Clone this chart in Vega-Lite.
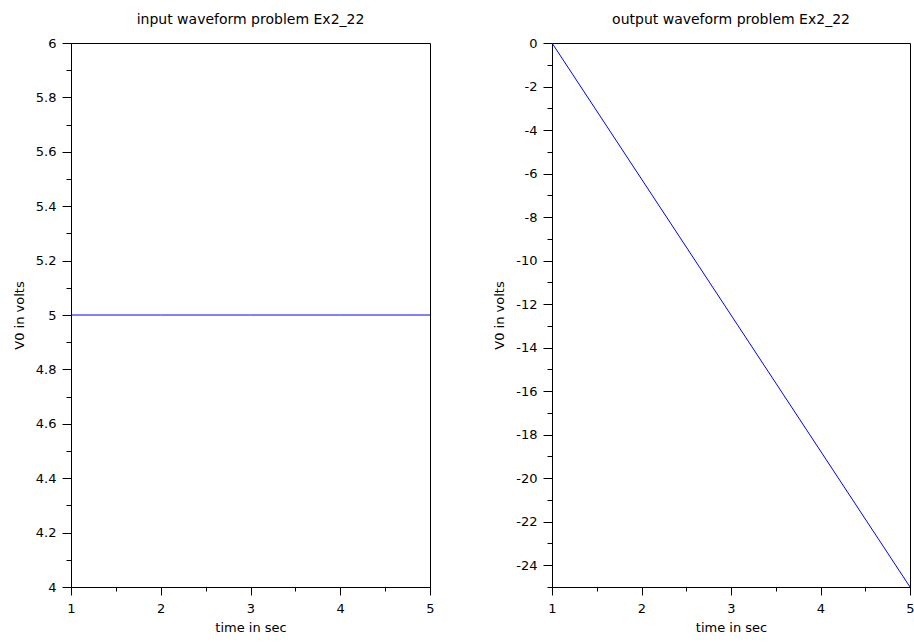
{
  "$schema": "https://vega.github.io/schema/vega-lite/v6.json",
  "background": "white",
  "padding": {"left": 12, "top": 12, "right": 5, "bottom": 5},
  "config": {
    "font": "DejaVu Sans",
    "view": {"stroke": "black", "strokeWidth": 1},
    "axis": {
      "domainColor": "black", "tickColor": "black", "labelColor": "black", "titleColor": "black",
      "grid": false, "labelFontSize": 13, "titleFontSize": 13, "titleFontWeight": "normal",
      "labelFont": "DejaVu Sans", "titleFont": "DejaVu Sans", "labelFlush": false, "labelOverlap": false
    },
    "title": {"fontSize": 14, "fontWeight": "normal", "font": "DejaVu Sans", "color": "black", "frame": "group", "baseline": "alphabetic", "offset": 10}
  },
  "hconcat": [
    {
      "title": "input waveform problem Ex2_22",
      "width": 359, "height": 544,
      "data": {"values": [
        {"t": 1, "v": 5}, {"t": 2, "v": 5}, {"t": 3, "v": 5}, {"t": 4, "v": 5}, {"t": 5, "v": 5}
      ]},
      "layer": [
        {
          "mark": {"type": "line", "color": "#0000ff", "strokeWidth": 1},
          "encoding": {
            "x": {"field": "t", "type": "quantitative", "scale": {"domain": [1, 5], "nice": false, "zero": false},
                  "axis": {"orient": "bottom", "tickCount": 4, "tickSize": 8, "labelPadding": 7, "title": "time in sec", "titlePadding": 6}},
            "y": {"field": "v", "type": "quantitative", "scale": {"domain": [4, 6], "nice": false, "zero": false},
                  "axis": {"orient": "left", "tickCount": 10, "tickSize": 9, "labelPadding": 6, "format": "~g", "title": "V0 in volts", "titlePadding": 9}}
          }
        },
        {
          "mark": {"type": "line", "opacity": 0},
          "encoding": {
            "x": {"field": "t", "type": "quantitative", "scale": {"domain": [1, 5], "nice": false, "zero": false},
                  "axis": {"orient": "bottom", "tickCount": 8, "tickSize": 4, "labels": false, "domain": false, "title": null}},
            "y": {"field": "v", "type": "quantitative", "scale": {"domain": [4, 6], "nice": false, "zero": false},
                  "axis": {"orient": "left", "tickCount": 20, "tickSize": 5, "labels": false, "domain": false, "title": null}}
          }
        }
      ],
      "resolve": {"axis": {"x": "independent", "y": "independent"}}
    },
    {
      "title": "output waveform problem Ex2_22",
      "width": 358, "height": 544,
      "data": {"values": [
        {"t": 1, "v": 0}, {"t": 2, "v": -6.25}, {"t": 3, "v": -12.5}, {"t": 4, "v": -18.75}, {"t": 5, "v": -25}
      ]},
      "layer": [
        {
          "mark": {"type": "line", "color": "#0000ff", "strokeWidth": 1},
          "encoding": {
            "x": {"field": "t", "type": "quantitative", "scale": {"domain": [1, 5], "nice": false, "zero": false},
                  "axis": {"orient": "bottom", "tickCount": 4, "tickSize": 8, "labelPadding": 7, "title": "time in sec", "titlePadding": 6}},
            "y": {"field": "v", "type": "quantitative", "scale": {"domain": [-25, 0], "nice": false, "zero": false},
                  "axis": {"orient": "left", "tickCount": 12, "tickSize": 9, "labelPadding": 6, "labelExpr": "'' + datum.value", "title": "V0 in volts", "titlePadding": 9}}
          }
        },
        {
          "mark": {"type": "line", "opacity": 0},
          "encoding": {
            "x": {"field": "t", "type": "quantitative", "scale": {"domain": [1, 5], "nice": false, "zero": false},
                  "axis": {"orient": "bottom", "tickCount": 8, "tickSize": 4, "labels": false, "domain": false, "title": null}},
            "y": {"field": "v", "type": "quantitative", "scale": {"domain": [-25, 0], "nice": false, "zero": false},
                  "axis": {"orient": "left", "tickCount": 25, "tickSize": 5, "labels": false, "domain": false, "title": null}}
          }
        }
      ],
      "resolve": {"axis": {"x": "independent", "y": "independent"}}
    }
  ],
  "spacing": 58
}
